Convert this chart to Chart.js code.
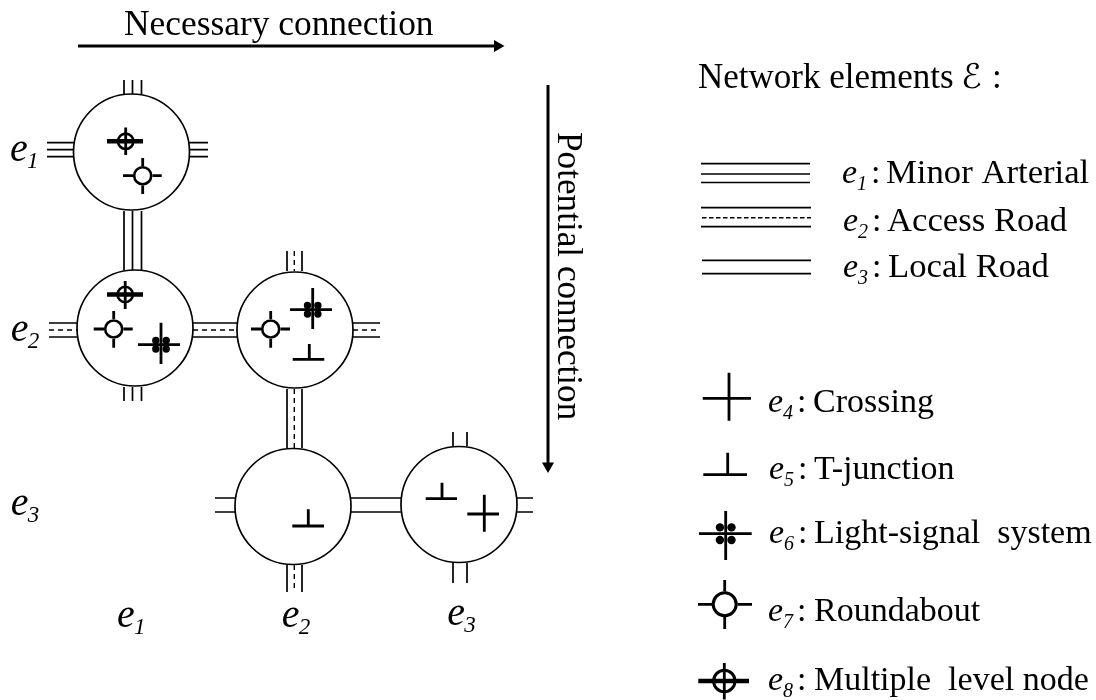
<!DOCTYPE html>
<html>
<head>
<meta charset="utf-8">
<title>Network elements</title>
<script src="https://cdn.jsdelivr.net/npm/chart.js@4"></script>
<style>
  html, body { margin: 0; padding: 0; background: #fff; }
  canvas { display: block; }
</style>
</head>
<body>
<canvas id="graph" width="1096" height="700"></canvas>
<script>

/* [cx, cy] */
const node_circles = [[131.5, 152], [135, 328], [295, 330], [293, 506.5], [459, 504.5]];
const roundabouts = [[142.7, 175.7], [113.7, 329], [270.7, 329]];
const roundabout_key = [[724.7, 604.3]];
const multilevels = [[125.7, 141.3], [125.2, 294.5]];
const multilevel_key = [[724.3, 681]];

/* [x1, y1, x2, y2] */
const road_lines = [
    [124, 80, 124, 94], [132.5, 80, 132.5, 94], [141.5, 80, 141.5, 94],
    [47, 142.7, 74, 142.7], [47, 149.7, 74, 149.7], [47, 156.7, 74, 156.7],
    [189, 142.7, 208, 142.7], [189, 149.7, 208, 149.7], [189, 156.7, 208, 156.7],
    [124, 211, 124, 270], [132.5, 211, 132.5, 270], [141.5, 211, 141.5, 270],
    [124, 387, 124, 401], [132.5, 387, 132.5, 401], [141.5, 387, 141.5, 401],
    [49, 323, 78, 323], [49, 337, 78, 337],
    [193, 323, 237, 323], [193, 337, 237, 337],
    [353, 323, 380, 323], [353, 337, 380, 337],
    [287, 251, 287, 271], [302, 251, 302, 271],
    [287, 389, 287, 448], [302, 389, 302, 448],
    [287, 565, 287, 592], [302, 565, 302, 592],
    [215, 498, 235, 498], [215, 512, 235, 512],
    [351, 498, 401, 498], [351, 512, 401, 512],
    [517, 498, 533, 498], [517, 512, 533, 512],
    [453, 432, 453, 446], [467, 432, 467, 446],
    [453, 563, 453, 583], [467, 563, 467, 583],
    [701, 163.7, 810, 163.7], [701, 174, 810, 174], [701, 182.5, 810, 182.5],
    [701, 207.7, 811, 207.7], [701, 226.7, 811, 226.7],
    [702, 260.3, 811, 260.3], [702, 273.7, 811, 273.7],
];
const road_dashes = [
    [49, 330, 78, 330], [193, 330, 237, 330], [353, 330, 380, 330],
    [294.3, 251, 294.3, 271], [294.3, 389, 294.3, 448], [294.3, 565, 294.3, 592],
];
const key_dashes = [[702, 217.7, 811, 217.7]];
const symbol_lines = [
    /* multiple level verticals */
    [125.7, 127.5, 125.7, 155], [125.2, 281, 125.2, 309], [724.3, 663, 724.3, 699.5],
    /* roundabout arms */
    [123, 175.7, 133, 175.7], [152.5, 175.7, 161.7, 175.7], [142.7, 158, 142.7, 166], [142.7, 185.5, 142.7, 194],
    [93.7, 329, 104, 329], [123.5, 329, 132.7, 329], [113.7, 311, 113.7, 319], [113.7, 339, 113.7, 347.7],
    [251, 329, 261, 329], [280.5, 329, 290, 329], [270.7, 311, 270.7, 319], [270.7, 339, 270.7, 347.7],
    [698, 604.3, 712, 604.3], [737.5, 604.3, 752, 604.3], [724.7, 580, 724.7, 591.5], [724.7, 617, 724.7, 629],
    /* light signals */
    [138, 344.7, 180, 344.7], [161, 322.7, 161, 364],
    [290, 309.7, 332, 309.7], [312.7, 288, 312.7, 329],
    [699, 533.7, 751.7, 533.7], [725.7, 511, 725.7, 560],
    /* T-junctions */
    [292.7, 359.3, 324.3, 359.3], [309.3, 344, 309.3, 359.3],
    [292.3, 526, 324, 526], [308.3, 509.3, 308.3, 526],
    [425.7, 498.7, 457, 498.7], [442, 482.7, 442, 498.7],
    [703.3, 474.7, 747, 474.7], [727.7, 452.7, 727.7, 474.7],
    /* crossings */
    [467.3, 514, 499, 514], [484.3, 494.7, 484.3, 531.7],
    [702.7, 398.3, 751, 398.3], [729, 372.7, 729, 420.7],
];
const multilevel_bars = [[107, 141.3, 143, 141.3], [107, 294.5, 143, 294.5], [698.3, 681, 749, 681]];
const arrow_lines = [[78, 46, 494, 46], [548, 85, 548, 463]];

const signal_dots = [
    [155.8, 340.4], [166.2, 340.4], [155.8, 349], [166.2, 349],
    [307.5, 305.4], [317.9, 305.4], [307.5, 314], [317.9, 314],
];
const signal_dots_key = [[719.9, 527.4], [731.5, 527.4], [719.9, 540], [731.5, 540]];
const arrow_right = [[497.5, 46]];
const arrow_down = [[548, 466]];

/* text: [string, x, baseline] */
const top_label = ["Necessary connection", 124, 35];
const heading_labels = [
    ["Network elements", 698, 88],
    [":", 992, 88],
];
const road_labels = [
    ["Minor Arterial", 886, 183],
    ["Access Road", 887, 231],
    ["Local Road", 888, 277],
];
const node_labels = [
    ["Crossing", 813, 412],
    ["T-junction", 814, 479],
    ["Light-signal  system", 814, 543],
    ["Roundabout", 814, 621],
    ["Multiple  level node", 814, 690],
];
/* [subscript, x, baseline, colon x] */
const key_labels = [
    ["1", 842, 183, 871], ["2", 843, 231, 872], ["3", 843, 277, 872],
    ["4", 768, 412, 797], ["5", 769, 479, 798], ["6", 769, 543, 798],
    ["7", 768, 621, 797], ["8", 768, 690, 797],
];
const axis_labels = [
    ["1", 10, 161], ["2", 10.7, 341], ["3", 10.7, 515],
    ["1", 117, 627], ["2", 281.7, 627], ["3", 447.3, 625],
];
const side_label = ["Potential connection", 558, 132];
const script_e = ["\u2130", 961, 88];

function lineData(segments) {
    const pts = [];
    for (const s of segments) {
        pts.push({ x: s[0], y: s[1] }, { x: s[2], y: s[3] }, { x: null, y: null });
    }
    return pts;
}

function pointData(list) {
    return list.map((p) => ({ x: p[0], y: p[1] }));
}

function lines(segments, width, order, dash) {
    return {
        data: lineData(segments),
        showLine: true,
        pointRadius: 0,
        borderColor: "#000",
        borderWidth: width,
        borderDash: dash || [],
        order: order,
    };
}

function points(list, radius, stroke, fill, order, style, rotation) {
    return {
        data: pointData(list),
        showLine: false,
        pointStyle: style || "circle",
        pointRadius: radius,
        pointRotation: rotation || 0,
        pointBorderWidth: stroke,
        pointBorderColor: "#000",
        pointBackgroundColor: fill,
        order: order,
    };
}

const text_plugin = {
    id: "text_plugin",
    afterDatasetsDraw(chart) {
        const c = chart.ctx;
        const sx = chart.scales.x;
        const sy = chart.scales.y;
        const serif = '"Liberation Serif", "Times New Roman", serif';

        function put(l) {
            c.fillText(l[0], sx.getPixelForValue(l[1]), sy.getPixelForValue(l[2]));
        }

        c.save();
        c.fillStyle = "#000";
        c.textBaseline = "alphabetic";
        c.textAlign = "left";

        c.font = "35.4px " + serif;
        put(top_label);
        c.font = "35px " + serif;
        heading_labels.forEach(put);
        c.font = "34.7px " + serif;
        road_labels.forEach(put);
        c.font = "34px " + serif;
        node_labels.forEach(put);

        for (const l of key_labels) {
            const x = sx.getPixelForValue(l[1]);
            const y = sy.getPixelForValue(l[2]);
            c.font = "italic 34px " + serif;
            c.fillText("e", x, y);
            c.font = "italic 20px " + serif;
            c.fillText(l[0], x + 15, y + 7);
            c.font = "34px " + serif;
            c.fillText(":", sx.getPixelForValue(l[3]), y);
        }
        for (const l of axis_labels) {
            const x = sx.getPixelForValue(l[1]);
            const y = sy.getPixelForValue(l[2]);
            c.font = "italic 40px " + serif;
            c.fillText("e", x, y);
            c.font = "italic 23px " + serif;
            c.fillText(l[0], x + 17, y + 7);
        }
        c.font = '34px "DejaVu Sans", sans-serif';
        put(script_e);

        c.font = "35.2px " + serif;
        c.translate(sx.getPixelForValue(side_label[1]), sy.getPixelForValue(side_label[2]));
        c.rotate(Math.PI / 2);
        c.fillText(side_label[0], 0, 0);
        c.restore();
    },
};

const ctx = document.getElementById("graph");
const graph = new Chart(ctx, {
    type: "scatter",
    data: {
        datasets: [
            lines(road_lines, 1.7, 9),
            lines(road_dashes, 1.4, 9, [5, 4]),
            lines(key_dashes, 1.4, 9, [4.5, 2.5]),
            points(node_circles, 58, 1.7, "rgba(255,255,255,0)", 8),
            lines(symbol_lines, 2.8, 7),
            lines(multilevel_bars, 4.5, 6),
            lines(arrow_lines, 3, 6),
            points(roundabouts, 8.5, 2.6, "#fff", 5),
            points(roundabout_key, 11.5, 3, "#fff", 5),
            points(multilevels, 7.7, 2.6, "rgba(255,255,255,0)", 5),
            points(multilevel_key, 10.7, 3, "rgba(255,255,255,0)", 5),
            points(signal_dots, 3.7, 0, "#000", 5),
            points(signal_dots_key, 4.2, 0, "#000", 5),
            points(arrow_right, 7, 0, "#000", 5, "triangle", 90),
            points(arrow_down, 7, 0, "#000", 5, "triangle", 180),
        ],
    },
    options: {
        responsive: false,
        animation: false,
        clip: false,
        layout: { padding: 0, autoPadding: false },
        plugins: {
            legend: { display: false },
            tooltip: { enabled: false },
            title: { display: false },
        },
        scales: {
            x: { type: "linear", min: 0, max: 1096, display: false },
            y: { type: "linear", min: 0, max: 700, reverse: true, display: false },
        },
    },
    plugins: [text_plugin],
});
</script>
</body>
</html>
